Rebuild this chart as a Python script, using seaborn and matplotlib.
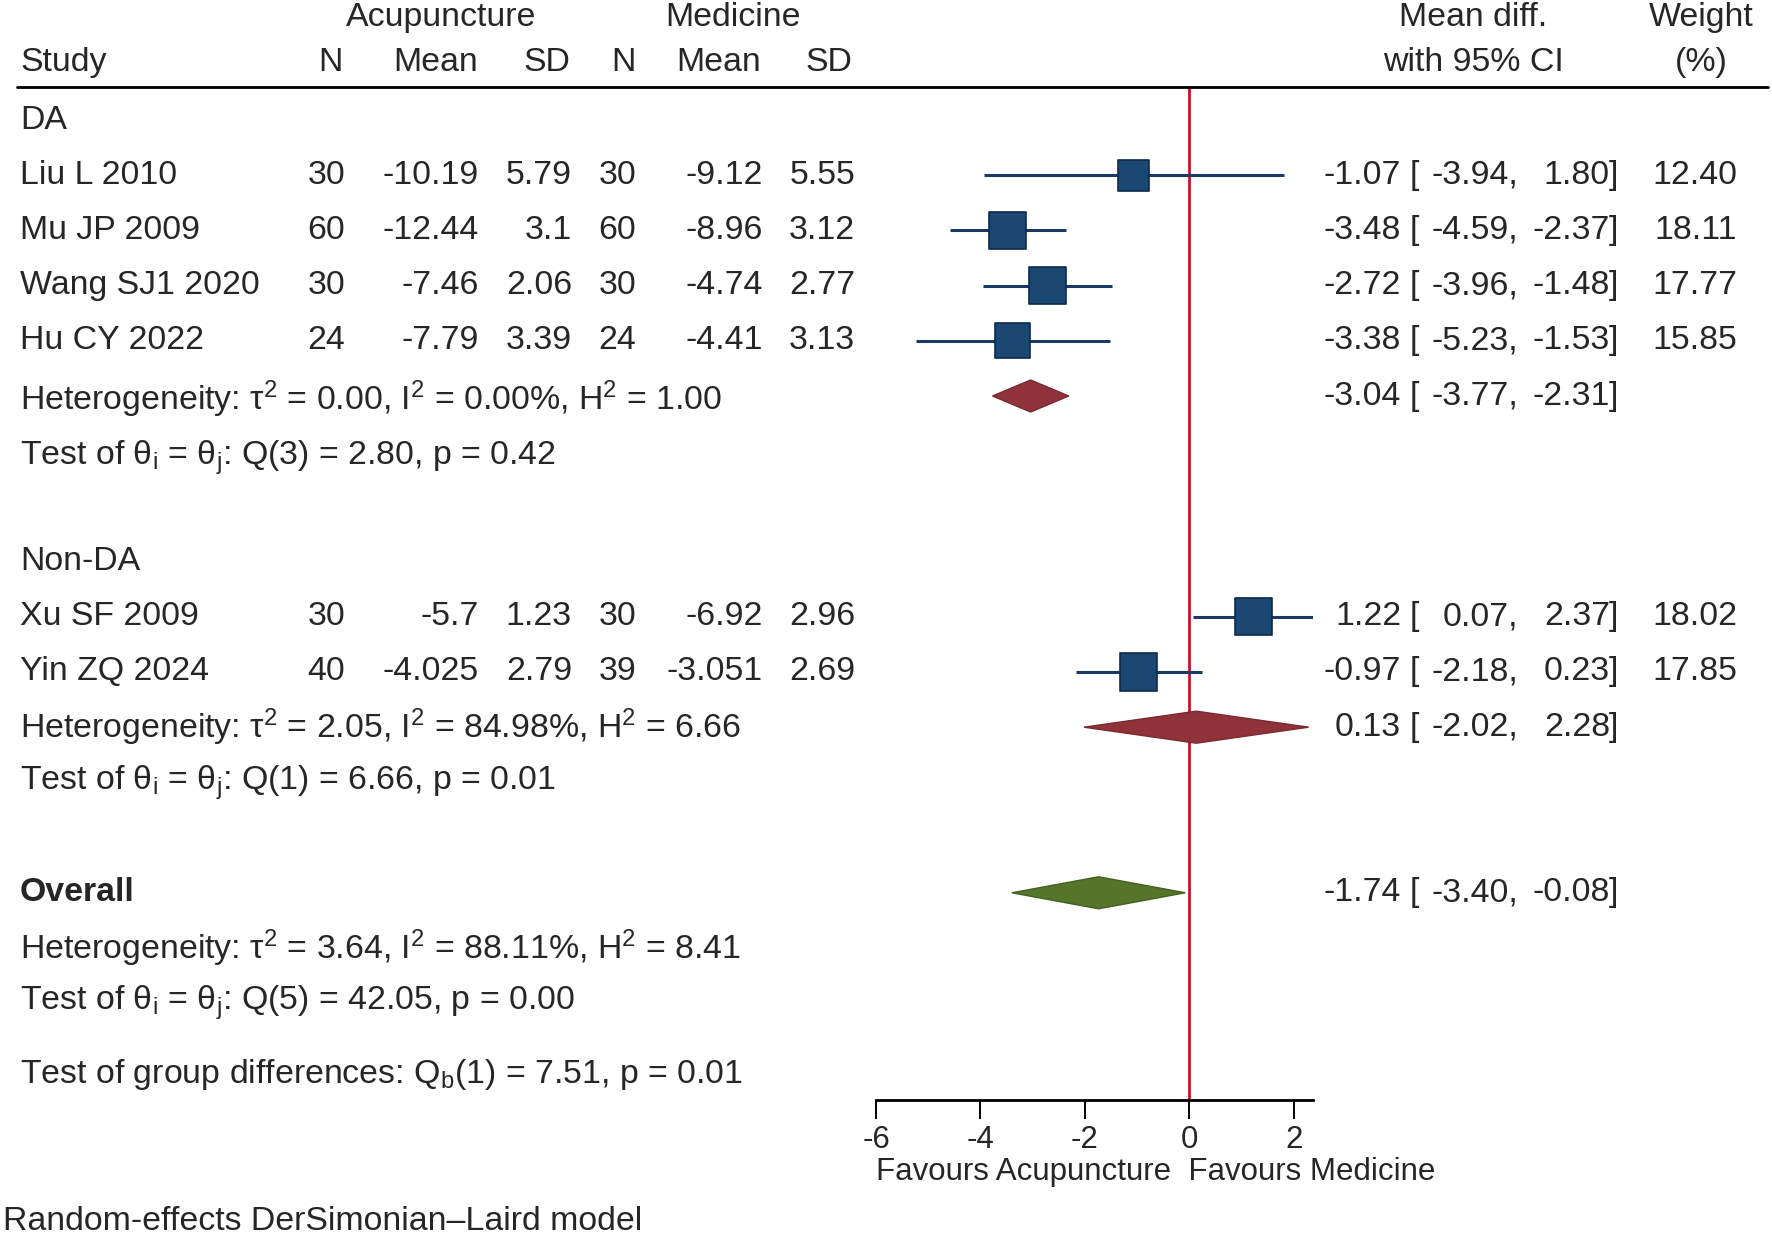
import numpy as np
import pandas as pd
import matplotlib
matplotlib.use("Agg")
import matplotlib.pyplot as plt
import matplotlib.transforms as mtransforms
from matplotlib.lines import Line2D
import seaborn as sns

# study level data
studies = ["Liu L 2010", "Mu JP 2009", "Wang SJ1 2020", "Hu CY 2022", "Xu SF 2009", "Yin ZQ 2024"]
groups = ["DA", "DA", "DA", "DA", "Non-DA", "Non-DA"]
acu_n = ["30", "60", "30", "24", "30", "40"]
acu_mean = ["-10.19", "-12.44", "-7.46", "-7.79", "-5.7", "-4.025"]
acu_sd = ["5.79", "3.1", "2.06", "3.39", "1.23", "2.79"]
med_n = ["30", "60", "30", "24", "30", "39"]
med_mean = ["-9.12", "-8.96", "-4.74", "-4.41", "-6.92", "-3.051"]
med_sd = ["5.55", "3.12", "2.77", "3.13", "2.96", "2.69"]
md = [-1.07, -3.48, -2.72, -3.38, 1.22, -0.97]
md_lo = [-3.94, -4.59, -3.96, -5.23, 0.07, -2.18]
md_hi = [1.80, -2.37, -1.48, -1.53, 2.37, 0.23]
weight = [12.40, 18.11, 17.77, 15.85, 18.02, 17.85]
study_rows = [1, 2, 3, 4, 9, 10]

# pooled estimates
pool_labels = ["DA", "Non-DA", "Overall"]
pool_md = [-3.04, 0.13, -1.74]
pool_lo = [-3.77, -2.02, -3.40]
pool_hi = [-2.31, 2.28, -0.08]
pool_rows = [5, 11, 14]
pool_colors = ["#90323a", "#90323a", "#55752a"]
pool_edges = ["#7a2a31", "#7a2a31", "#45601f"]

het_text = [
    "Heterogeneity: τ$^\\mathrm{2}$ = 0.00, I$^\\mathrm{2}$ = 0.00%, H$^\\mathrm{2}$ = 1.00",
    "Heterogeneity: τ$^\\mathrm{2}$ = 2.05, I$^\\mathrm{2}$ = 84.98%, H$^\\mathrm{2}$ = 6.66",
    "Heterogeneity: τ$^\\mathrm{2}$ = 3.64, I$^\\mathrm{2}$ = 88.11%, H$^\\mathrm{2}$ = 8.41",
]
test_text = [
    "Test of θ$_\\mathrm{i}$ = θ$_\\mathrm{j}$: Q(3) = 2.80, p = 0.42",
    "Test of θ$_\\mathrm{i}$ = θ$_\\mathrm{j}$: Q(1) = 6.66, p = 0.01",
    "Test of θ$_\\mathrm{i}$ = θ$_\\mathrm{j}$: Q(5) = 42.05, p = 0.00",
]
het_rows = [5.05, 11, 15]
test_rows = [6.12, 12, 16]
group_rows = [0, 8]
group_test = "Test of group differences: Q$_\\mathrm{b}$(1) = 7.51, p = 0.01"
group_test_row = 17.3
xticks = [-6, -4, -2, 0, 2]

df = pd.DataFrame({"study": studies, "md": md, "lo": md_lo, "hi": md_hi,
                   "weight": weight, "row": study_rows})

sns.set_theme(style="white")
plt.rcParams["font.family"] = ["Liberation Sans", "DejaVu Sans"]
plt.rcParams["mathtext.fontset"] = "custom"
plt.rcParams["mathtext.rm"] = "Liberation Sans"
plt.rcParams["mathtext.it"] = "Liberation Sans:italic"
plt.rcParams["mathtext.bf"] = "Liberation Sans:bold"
plt.rcParams["axes.unicode_minus"] = False
FS = 24.4
AFS = 22.5

fig = plt.figure(figsize=(17.72, 12.38), dpi=100)
W, H = 1772.0, 1238.0
ax = fig.add_axes([876 / W, 1 - 1100 / H, 437 / W, (1100 - 87) / H])
ax.set_xlim(-6, 2.364)
ax.set_ylim(17.754, -0.598)

# reference line
ax.axvline(0, color="#c8102e", lw=2.0, zorder=1)

# confidence intervals and weighted squares
ax.hlines(df["row"], df["lo"], df["hi"], color="#1a3a66", lw=2.2, zorder=2)
sns.scatterplot(data=df, x="md", y="row", size="weight", sizes=(0, 802),
                size_norm=(0, 20), marker="s", color="#1a4873",
                edgecolor="#0e2a4a", linewidth=1.2, legend=False, ax=ax, zorder=3)

# pooled diamonds
for est, lo, hi, r, c, ec in zip(pool_md, pool_lo, pool_hi, pool_rows, pool_colors, pool_edges):
    hh = 0.29
    ax.fill([lo, est, hi, est], [r, r - hh, r, r + hh], color=c, ec=ec, lw=1, zorder=3)

ax.set_xticks(xticks)
ax.set_yticks([])
ax.set_xlabel("")
ax.set_ylabel("")
for s in ["top", "left", "right"]:
    ax.spines[s].set_visible(False)
ax.spines["bottom"].set_color("black")
ax.spines["bottom"].set_linewidth(2.0)
ax.tick_params(axis="x", direction="out", length=14, width=1.4, color="black",
               labelsize=AFS, pad=4, bottom=True)
ax.grid(False)

ax.text(0.0, -0.071, "Favours Acupuncture  Favours Medicine", transform=ax.transAxes,
        fontsize=AFS, ha="left", va="center")

# text columns: x in figure pixels, y in plot rows
tr = mtransforms.blended_transform_factory(fig.transFigure, ax.transData)


def put(xpx, row, s, ha="left", **kw):
    fig.text(xpx / W, row, s, transform=tr, ha=ha, va="center", fontsize=FS, **kw)


# header
hdr_study = -1.05
hdr_top = -1.85
put(441, hdr_top, "Acupuncture", ha="center")
put(733, hdr_top, "Medicine", ha="center")
put(1473, hdr_top, "Mean diff.", ha="center")
put(1701, hdr_top, "Weight", ha="center")
put(20, hdr_study, "Study")
put(343, hdr_study, "N", ha="right")
put(478, hdr_study, "Mean", ha="right")
put(570, hdr_study, "SD", ha="right")
put(636, hdr_study, "N", ha="right")
put(761, hdr_study, "Mean", ha="right")
put(852, hdr_study, "SD", ha="right")
put(1473, hdr_study, "with 95% CI", ha="center")
put(1701, hdr_study, "(%)", ha="center")
fig.add_artist(Line2D([17 / W, 1768 / W], [1 - 87 / H, 1 - 87 / H],
                      transform=fig.transFigure, color="black", lw=2.0))

for g, r in zip(["DA", "Non-DA"], group_rows):
    put(20, r, g)


def ci_text(r, est, lo, hi):
    put(1401, r, f"{est:.2f}", ha="right")
    put(1410, r, "[")
    put(1518, r, f"{lo:.2f},", ha="right")
    put(1610, r, f"{hi:.2f}", ha="right")
    put(1609, r, "]")


for i, r in enumerate(study_rows):
    put(20, r, studies[i])
    put(345, r, acu_n[i], ha="right")
    put(479, r, acu_mean[i], ha="right")
    put(572, r, acu_sd[i], ha="right")
    put(636, r, med_n[i], ha="right")
    put(763, r, med_mean[i], ha="right")
    put(855, r, med_sd[i], ha="right")
    ci_text(r, md[i], md_lo[i], md_hi[i])
    put(1737, r, f"{weight[i]:.2f}", ha="right")

for i in range(3):
    ci_text(pool_rows[i], pool_md[i], pool_lo[i], pool_hi[i])
    put(20, het_rows[i], het_text[i])
    put(20, test_rows[i], test_text[i])

put(20, 14, "Overall", fontweight="bold")
put(20, group_test_row, group_test)

fig.text(3 / W, 1 - 1222 / H, "Random-effects DerSimonian–Laird model",
         ha="left", va="center", fontsize=FS)

fig.savefig("out.png", dpi=100)
